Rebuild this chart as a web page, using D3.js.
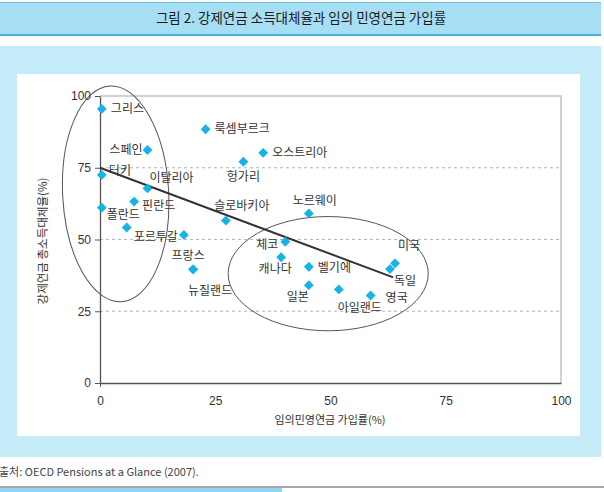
<!DOCTYPE html>
<html><head><meta charset="utf-8">
<script src="https://cdn.jsdelivr.net/npm/d3@7/dist/d3.min.js"></script>
<style>
html,body{margin:0;padding:0;background:#fff;}
svg{display:block;font-family:"Noto Sans CJK KR","Noto Sans",sans-serif;}
</style></head>
<body>
<script>
// ---- data ----
const countries = ["그리스","룩셈부르크","스페인","오스트리아","헝가리","터키","이탈리아","핀란드","","폴란드","포르투갈","슬로바키아","노르웨이","체코","캐나다","벨기에","일본","아일랜드","영국","미국","독일","프랑스","뉴질랜드"];
const coverage   = [0.4, 22.9, 10.3, 35.4, 31.1, 0.4, 10.3, 7.4, 0.4, 5.8, 18.2, 27.3, 45.3, 40.2, 39.3, 45.3, 45.3, 51.8, 58.7, 64.0, 62.9, 20.2, 20.2];
const replacement= [95.5, 88.4, 81.2, 80.2, 77.1, 72.5, 67.8, 63.2, 61.1, 54.2, 51.6, 56.6, 59.1, 49.2, 43.8, 40.5, 34.1, 32.6, 30.5, 41.7, 39.7, 39.6, 39.6];
const xTicks = [0, 25, 50, 75, 100];
const yTicks = [0, 25, 50, 75, 100];
const trendX = [0, 63.6];
const trendY = [75, 36.8];
// ellipse annotations in data units: [cx, cy, rx, ry, rotation]
const ellipses = [[3.4, 65.9, 11.5, 37.6, -3], [49.5, 38.1, 21.7, 19.9, 0]];
const titleText = "그림 2. 강제연금 소득대체율과 임의 민영연금 가입률";
const xLabel = "임의민영연금 가입률(%)";
const yLabel = "강제연금 총소득대체율(%)";
const sourceText = "출처: OECD Pensions at a Glance (2007).";

// label placement (layout): [dx, dy, anchor]
const labelPos = {
  "그리스":[9,4,"start"], "룩셈부르크":[9,4,"start"], "스페인":[-5,4,"end"], "오스트리아":[9,4,"start"],
  "헝가리":[0,19,"middle"], "터키":[7,0,"start"], "이탈리아":[2,-6,"start"], "핀란드":[8,8,"start"],
  "폴란드":[-20,-8,"start"], "포르투갈":[-6,6,"end"], "슬로바키아":[16,-11,"middle"], "노르웨이":[6,-8,"middle"],
  "체코":[-7,7,"end"], "캐나다":[-6,16,"middle"], "벨기에":[9,5,"start"], "일본":[-11,16,"middle"],
  "아일랜드":[21,23,"middle"], "영국":[15,7,"start"], "미국":[3,-13,"start"], "독일":[4,16,"start"],
  "프랑스":[-5,-9,"middle"], "뉴질랜드":[17,26,"middle"]
};

const W = 604, H = 492;
const svg = d3.select("body").append("svg").attr("width", W).attr("height", H);

// title band
svg.append("rect").attr("x",0).attr("y",2).attr("width",601).attr("height",33).attr("fill","#a6def4");
svg.append("line").attr("x1",0).attr("x2",601).attr("y1",2.5).attr("y2",2.5).attr("stroke","#6cc5e6").attr("stroke-width",1);
svg.append("line").attr("x1",0).attr("x2",601).attr("y1",35).attr("y2",35).attr("stroke","#45b2dc").attr("stroke-width",2);
svg.append("text").attr("x",301).attr("y",23).attr("text-anchor","middle").attr("font-size",13.5).attr("font-weight",400).attr("fill","#1a1a1a").text(titleText);

// panel
svg.append("rect").attr("x",0).attr("y",46).attr("width",601).attr("height",411).attr("fill","#c6ecf9");
svg.append("rect").attr("x",17).attr("y",74).attr("width",563).attr("height",362).attr("fill","#fff");

const x = d3.scaleLinear().domain([0,100]).range([100,561]);
const y = d3.scaleLinear().domain([0,100]).range([383,96]);

// frame top/right
svg.append("path").attr("d",`M${x(0)},${y(100)}H${x(100)}V${y(0)}`).attr("fill","none").attr("stroke","#c4c4c4").attr("stroke-width",1.5);

// gridlines
svg.append("g").selectAll("line").data(yTicks.filter(d=>d>0&&d<100)).join("line")
  .attr("x1",x(0)).attr("x2",x(100)).attr("y1",d=>y(d)).attr("y2",d=>y(d))
  .attr("stroke","#b5b5b5").attr("stroke-dasharray","3,3").attr("stroke-width",1);

// axes
const yAxis = svg.append("g").attr("transform",`translate(${x(0)},0)`)
  .call(d3.axisLeft(y).tickValues(yTicks).tickSize(5).tickPadding(4).tickSizeOuter(0));
const xAxis = svg.append("g").attr("transform",`translate(0,${y(0)})`)
  .call(d3.axisBottom(x).tickValues(xTicks).tickSize(4).tickPadding(9).tickSizeOuter(0));
[yAxis,xAxis].forEach(g=>{
  g.select(".domain").attr("stroke","#555").attr("stroke-width",1.3);
  g.selectAll(".tick line").attr("stroke","#555");
  g.selectAll(".tick text").attr("font-size",12).attr("fill","#333").attr("font-family","'Liberation Sans',Arial,sans-serif");
});
xAxis.selectAll(".tick line").attr("stroke", (d)=> d===0 ? "#555" : "none");

// axis titles
svg.append("text").attr("x",330).attr("y",424).attr("text-anchor","middle").attr("font-size",11).attr("fill","#333").text(xLabel);
svg.append("text").attr("transform",`translate(47,${241}) rotate(-90)`).attr("text-anchor","middle").attr("font-size",11.5).attr("fill","#333").text(yLabel);

// ellipses
svg.append("g").selectAll("ellipse").data(ellipses).join("ellipse")
  .attr("cx",0).attr("cy",0)
  .attr("rx",d=>x(d[2])-x(0)).attr("ry",d=>y(0)-y(d[3]))
  .attr("transform",d=>`translate(${x(d[0])},${y(d[1])}) rotate(${d[4]})`)
  .attr("fill","none").attr("stroke","#555").attr("stroke-width",1);

// trend line
svg.append("path").datum(trendX.map((v,i)=>[v,trendY[i]]))
  .attr("d", d3.line().x(d=>x(d[0])).y(d=>y(d[1])))
  .attr("stroke","#333").attr("stroke-width",2).attr("fill","none");

// points
const pts = countries.map((c,i)=>({c, x:coverage[i], y:replacement[i]}));
svg.append("g").selectAll("path").data(pts).join("path")
  .attr("d", d3.symbol().type(d3.symbolDiamond2).size(62))
  .attr("transform",d=>`translate(${x(d.x)},${y(d.y)})`)
  .attr("fill","#16b3e6");

// labels
svg.append("g").selectAll("text").data(pts.filter(d=>d.c)).join("text")
  .attr("x",d=>x(d.x)+labelPos[d.c][0]).attr("y",d=>y(d.y)+labelPos[d.c][1])
  .attr("text-anchor",d=>labelPos[d.c][2])
  .attr("font-size",12).attr("fill","#333").text(d=>d.c);

// source
svg.append("text").attr("x",-1).attr("y",476).attr("font-size",11).attr("fill","#444").text(sourceText);

// bottom lines
svg.append("line").attr("x1",0).attr("x2",604).attr("y1",487).attr("y2",487).attr("stroke","#888").attr("stroke-width",1.5);
svg.append("rect").attr("x",0).attr("y",488).attr("width",282).attr("height",4).attr("fill","#8fd6f2");
</script>
</body></html>
